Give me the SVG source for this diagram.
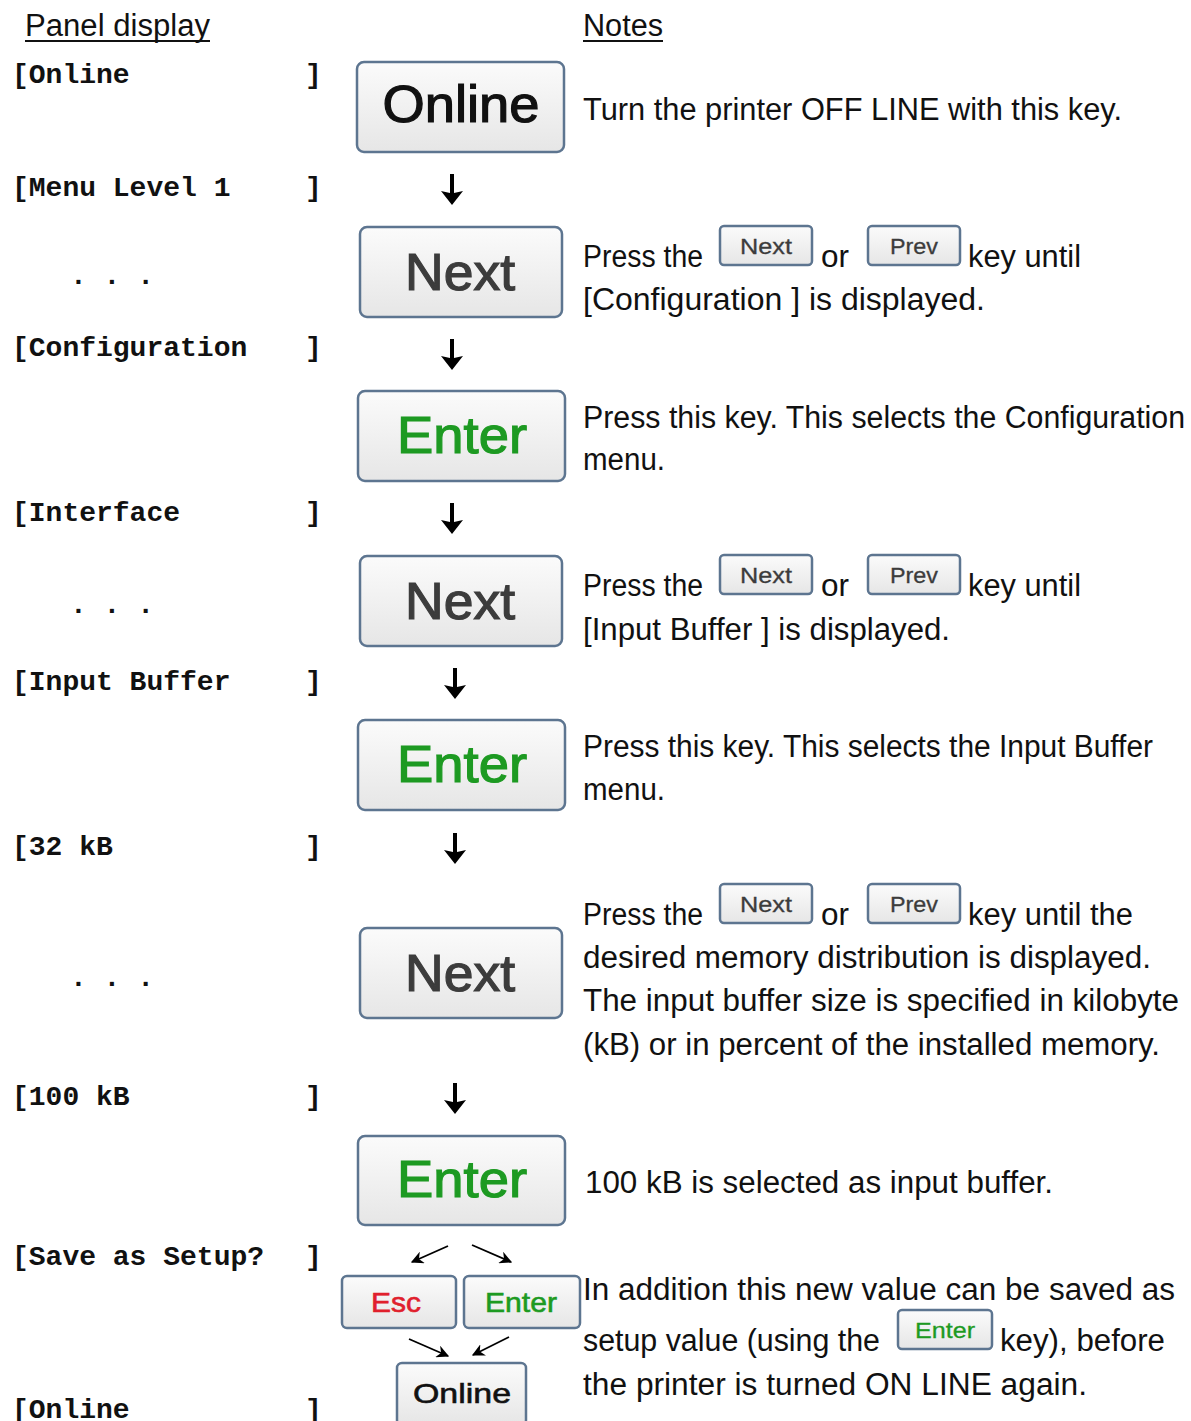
<svg xmlns="http://www.w3.org/2000/svg" width="1191" height="1421" viewBox="0 0 1191 1421">
<defs>
<linearGradient id="btn" x1="0" y1="0" x2="0" y2="1">
<stop offset="0" stop-color="#fbfbfb"/>
<stop offset="1" stop-color="#e6e6e6"/>
</linearGradient>
<marker id="ah" viewBox="0 0 10 10" refX="9" refY="5" markerWidth="7" markerHeight="7" orient="auto">
<path d="M0,0 L10,5 L0,10 L3,5 z" fill="#000"/>
</marker>
<path id="down" d="M-2,0 L2,0 L2,19 L11,17 L0,31 L-11,17 L-2,19 z" fill="#000"/>
</defs>
<style>
.bg{fill:#fff}
.btn{fill:url(#btn);stroke:#5d7590;stroke-width:2.5}
.mono{font-family:"Liberation Mono","Courier New",monospace;font-weight:bold;font-size:28px;fill:#111}
.note{font-family:"Liberation Sans","DejaVu Sans",sans-serif;font-size:31px;fill:#111}
.bt{font-family:"Liberation Sans","DejaVu Sans",sans-serif;text-anchor:middle}
.big{font-size:52px;stroke-width:1.2}
.sm{font-size:28px;stroke-width:0.6}
.tiny{font-size:22px;stroke-width:0.3}
.blk{fill:#111;stroke:#111}
.gry{fill:#3c3c3c;stroke:#3c3c3c}
.grn{fill:#1d9a22;stroke:#1d9a22}
.red{fill:#e0202c;stroke:#e0202c}
.sarr{stroke:#000;stroke-width:1.8;fill:none}
.dots{font-family:"Liberation Mono",monospace;font-weight:bold;font-size:28px;fill:#111}
</style>
<rect class="bg" x="0" y="0" width="1191" height="1421"/>

<g id="headers">
<text class="note" x="25" y="36" textLength="185" lengthAdjust="spacingAndGlyphs">Panel display</text>
<line x1="25" y1="41" x2="210" y2="41" stroke="#111" stroke-width="2"/>
<text class="note" x="583" y="36" textLength="80" lengthAdjust="spacingAndGlyphs">Notes</text>
<line x1="583" y1="41" x2="663" y2="41" stroke="#111" stroke-width="2"/>
</g>

<g id="panel">
<text class="mono" x="12" y="83">[Online</text><text class="mono" x="305" y="83">]</text>
<text class="mono" x="12" y="196">[Menu Level 1</text><text class="mono" x="305" y="196">]</text>
<text class="dots" x="70" y="284">. . .</text>
<text class="mono" x="12" y="356">[Configuration</text><text class="mono" x="305" y="356">]</text>
<text class="mono" x="12" y="521">[Interface</text><text class="mono" x="305" y="521">]</text>
<text class="dots" x="70" y="613">. . .</text>
<text class="mono" x="12" y="690">[Input Buffer</text><text class="mono" x="305" y="690">]</text>
<text class="mono" x="12" y="855">[32 kB</text><text class="mono" x="305" y="855">]</text>
<text class="dots" x="70" y="986">. . .</text>
<text class="mono" x="12" y="1105">[100 kB</text><text class="mono" x="305" y="1105">]</text>
<text class="mono" x="12" y="1265">[Save as Setup?</text><text class="mono" x="305" y="1265">]</text>
<text class="mono" x="12" y="1418">[Online</text><text class="mono" x="305" y="1418">]</text>
</g>

<g id="btn-online-1"><rect class="btn" x="357" y="62" width="207" height="90" rx="7"/><text class="bt big blk" x="461" y="122" textLength="157" lengthAdjust="spacingAndGlyphs">Online</text></g>
<g id="btn-next-1"><rect class="btn" x="360" y="227" width="202" height="90" rx="7"/><text class="bt big gry" x="460" y="290" textLength="110" lengthAdjust="spacingAndGlyphs">Next</text></g>
<g id="btn-enter-1"><rect class="btn" x="358" y="391" width="207" height="90" rx="7"/><text class="bt big grn" x="462" y="453" textLength="130" lengthAdjust="spacingAndGlyphs">Enter</text></g>
<g id="btn-next-2"><rect class="btn" x="360" y="556" width="202" height="90" rx="7"/><text class="bt big gry" x="460" y="619" textLength="110" lengthAdjust="spacingAndGlyphs">Next</text></g>
<g id="btn-enter-2"><rect class="btn" x="358" y="720" width="207" height="90" rx="7"/><text class="bt big grn" x="462" y="782" textLength="130" lengthAdjust="spacingAndGlyphs">Enter</text></g>
<g id="btn-next-3"><rect class="btn" x="360" y="928" width="202" height="90" rx="7"/><text class="bt big gry" x="460" y="991" textLength="110" lengthAdjust="spacingAndGlyphs">Next</text></g>
<g id="btn-enter-3"><rect class="btn" x="358" y="1136" width="207" height="89" rx="7"/><text class="bt big grn" x="462" y="1197" textLength="130" lengthAdjust="spacingAndGlyphs">Enter</text></g>
<g id="btn-esc"><rect class="btn" x="342" y="1276" width="114" height="52" rx="5"/><text class="bt sm red" x="396" y="1312" textLength="50" lengthAdjust="spacingAndGlyphs">Esc</text></g>
<g id="btn-enter-4"><rect class="btn" x="464" y="1276" width="116" height="52" rx="5"/><text class="bt sm grn" x="521" y="1312" textLength="72" lengthAdjust="spacingAndGlyphs">Enter</text></g>
<g id="btn-online-2"><rect class="btn" x="397" y="1363" width="129" height="62" rx="5"/><text class="bt sm blk" x="462" y="1403" textLength="98" lengthAdjust="spacingAndGlyphs">Online</text></g>

<g id="connectors">
<use href="#down" x="452" y="174"/>
<use href="#down" x="452" y="339"/>
<use href="#down" x="452" y="503"/>
<use href="#down" x="455" y="668"/>
<use href="#down" x="455" y="833"/>
<use href="#down" x="455" y="1083"/>
<line class="sarr" x1="448" y1="1246" x2="412" y2="1262" marker-end="url(#ah)"/>
<line class="sarr" x1="472" y1="1245" x2="511" y2="1262" marker-end="url(#ah)"/>
<line class="sarr" x1="409" y1="1339" x2="448" y2="1356" marker-end="url(#ah)"/>
<line class="sarr" x1="509" y1="1337" x2="473" y2="1355" marker-end="url(#ah)"/>
</g>

<g id="notes">
<text class="note" x="583" y="120" textLength="539" lengthAdjust="spacingAndGlyphs">Turn the printer OFF LINE with this key.</text>

<text class="note" x="583" y="267" textLength="120" lengthAdjust="spacingAndGlyphs">Press the</text>
<g id="key-next-a"><rect class="btn" x="720" y="226" width="92" height="39" rx="4" stroke-width="1.8"/><text class="bt tiny gry" x="766" y="254" textLength="52" lengthAdjust="spacingAndGlyphs">Next</text></g>
<text class="note" x="821" y="267" textLength="28" lengthAdjust="spacingAndGlyphs">or</text>
<g id="key-prev-a"><rect class="btn" x="868" y="226" width="92" height="39" rx="4" stroke-width="1.8"/><text class="bt tiny gry" x="914" y="254" textLength="48" lengthAdjust="spacingAndGlyphs">Prev</text></g>
<text class="note" x="968" y="267" textLength="113" lengthAdjust="spacingAndGlyphs">key until</text>
<text class="note" x="583" y="310" textLength="402" lengthAdjust="spacingAndGlyphs">[Configuration ] is displayed.</text>

<text class="note" x="583" y="428" textLength="602" lengthAdjust="spacingAndGlyphs">Press this key. This selects the Configuration</text>
<text class="note" x="583" y="470" textLength="82" lengthAdjust="spacingAndGlyphs">menu.</text>

<text class="note" x="583" y="596" textLength="120" lengthAdjust="spacingAndGlyphs">Press the</text>
<g id="key-next-b"><rect class="btn" x="720" y="555" width="92" height="39" rx="4" stroke-width="1.8"/><text class="bt tiny gry" x="766" y="583" textLength="52" lengthAdjust="spacingAndGlyphs">Next</text></g>
<text class="note" x="821" y="596" textLength="28" lengthAdjust="spacingAndGlyphs">or</text>
<g id="key-prev-b"><rect class="btn" x="868" y="555" width="92" height="39" rx="4" stroke-width="1.8"/><text class="bt tiny gry" x="914" y="583" textLength="48" lengthAdjust="spacingAndGlyphs">Prev</text></g>
<text class="note" x="968" y="596" textLength="113" lengthAdjust="spacingAndGlyphs">key until</text>
<text class="note" x="583" y="640" textLength="367" lengthAdjust="spacingAndGlyphs">[Input Buffer ] is displayed.</text>

<text class="note" x="583" y="757" textLength="570" lengthAdjust="spacingAndGlyphs">Press this key. This selects the Input Buffer</text>
<text class="note" x="583" y="800" textLength="82" lengthAdjust="spacingAndGlyphs">menu.</text>

<text class="note" x="583" y="925" textLength="120" lengthAdjust="spacingAndGlyphs">Press the</text>
<g id="key-next-c"><rect class="btn" x="720" y="884" width="92" height="39" rx="4" stroke-width="1.8"/><text class="bt tiny gry" x="766" y="912" textLength="52" lengthAdjust="spacingAndGlyphs">Next</text></g>
<text class="note" x="821" y="925" textLength="28" lengthAdjust="spacingAndGlyphs">or</text>
<g id="key-prev-c"><rect class="btn" x="868" y="884" width="92" height="39" rx="4" stroke-width="1.8"/><text class="bt tiny gry" x="914" y="912" textLength="48" lengthAdjust="spacingAndGlyphs">Prev</text></g>
<text class="note" x="968" y="925" textLength="165" lengthAdjust="spacingAndGlyphs">key until the</text>
<text class="note" x="583" y="968" textLength="568" lengthAdjust="spacingAndGlyphs">desired memory distribution is displayed.</text>
<text class="note" x="583" y="1011" textLength="596" lengthAdjust="spacingAndGlyphs">The input buffer size is specified in kilobyte</text>
<text class="note" x="583" y="1055" textLength="577" lengthAdjust="spacingAndGlyphs">(kB) or in percent of the installed memory.</text>

<text class="note" x="585" y="1193" textLength="468" lengthAdjust="spacingAndGlyphs">100 kB is selected as input buffer.</text>

<text class="note" x="583" y="1300" textLength="592" lengthAdjust="spacingAndGlyphs">In addition this new value can be saved as</text>
<text class="note" x="583" y="1351" textLength="297" lengthAdjust="spacingAndGlyphs">setup value (using the</text>
<g id="key-enter-d"><rect class="btn" x="898" y="1310" width="94" height="39" rx="4" stroke-width="1.8"/><text class="bt tiny grn" x="945" y="1338" textLength="60" lengthAdjust="spacingAndGlyphs">Enter</text></g>
<text class="note" x="1000" y="1351" textLength="165" lengthAdjust="spacingAndGlyphs">key), before</text>
<text class="note" x="583" y="1395" textLength="504" lengthAdjust="spacingAndGlyphs">the printer is turned ON LINE again.</text>
</g>
</svg>
